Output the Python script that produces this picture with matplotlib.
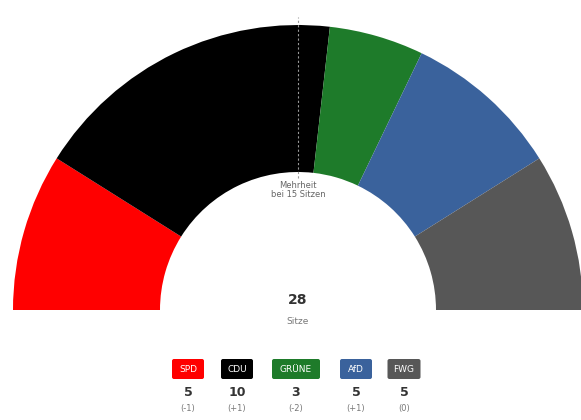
import matplotlib.pyplot as plt
from matplotlib.patches import Wedge, FancyBboxPatch

# Sitzverteilung
parteien = ["SPD", "CDU", "GRÜNE", "AfD", "FWG"]
sitze = [5, 10, 3, 5, 5]
aenderung = ["(-1)", "(+1)", "(-2)", "(+1)", "(0)"]
farben = ["#ff0000", "#000000", "#1e7b2a", "#3a629c", "#575757"]
mehrheit = 15

gesamt = sum(sitze)

fig = plt.figure(figsize=(5.81, 4.20), dpi=100)
ax = fig.add_axes([0, 0, 1, 1])
ax.set_xlim(0, 581)
ax.set_ylim(0, 420)
ax.axis("off")

cx, cy = 298, 110
r_aussen, r_innen = 285, 138

# Halbkreis von links (180°) nach rechts (0°)
winkel = 180.0
for p, s, f in zip(parteien, sitze, farben):
    w = s / gesamt * 180.0
    ax.add_patch(Wedge((cx, cy), r_aussen, winkel - w, winkel,
                       width=r_aussen - r_innen, facecolor=f,
                       edgecolor="none"))
    winkel -= w

# Mehrheitslinie
ax.plot([cx, cx], [cy + r_innen - 6, 403], color="#999999", lw=0.8,
        ls=(0, (2, 2)))
ax.text(cx, cy + r_innen - 9, f"Mehrheit\nbei {mehrheit} Sitzen",
        ha="center", va="top", fontsize=6, color="#666666",
        linespacing=0.95)

ax.text(cx, 120, str(gesamt), ha="center", va="center", fontsize=10,
        color="#333333", fontweight="bold")
ax.text(cx, 99, "Sitze", ha="center", va="center", fontsize=6.5,
        color="#777777")

# Legende
x_pos = [188, 237, 296, 356, 404]
breiten = [32, 32, 48, 32, 33]
for x, p, s, a, f, b in zip(x_pos, parteien, sitze, aenderung, farben, breiten):
    ax.add_patch(FancyBboxPatch((x - b / 2, 41), b, 20,
                                boxstyle="round,pad=0,rounding_size=2",
                                facecolor=f, edgecolor="none"))
    ax.text(x, 51, p.upper() if p != "AfD" else p, ha="center",
            va="center", fontsize=6.5, color="white")
    ax.text(x, 28, str(s), ha="center", va="center", fontsize=9,
            fontweight="bold", color="#333333")
    ax.text(x, 12, a, ha="center", va="center", fontsize=6,
            color="#777777")

fig.savefig("out.png", dpi=100)
